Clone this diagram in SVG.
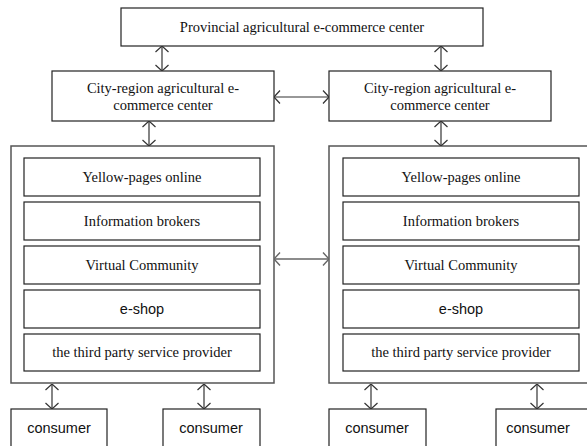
<svg xmlns="http://www.w3.org/2000/svg" width="587" height="446" viewBox="0 0 587 446">
<style>
.box{fill:#fff;stroke:#222;stroke-width:1.2}
.panel{fill:#fff;stroke:#555;stroke-width:1.5}
.serif{font-family:"Liberation Serif","Times New Roman",serif;font-size:14.5px;fill:#111;text-anchor:middle}
.sans{font-family:"Liberation Sans",Arial,sans-serif;font-size:14.5px;fill:#111;text-anchor:middle}
.conn{fill:none;stroke:#333;stroke-width:1.2;marker-start:url(#ah);marker-end:url(#ah)}
.conng{fill:none;stroke:#666;stroke-width:1.4;marker-start:url(#ahg);marker-end:url(#ahg)}
</style>
<defs>
<marker id="ah" viewBox="0 0 10 14" refX="10" refY="7" markerWidth="10" markerHeight="14" markerUnits="userSpaceOnUse" orient="auto-start-reverse">
<path d="M4,0.5 L10,7 L4,13.5" fill="none" stroke="#333" stroke-width="1.2"/>
</marker>
<marker id="ahg" viewBox="0 0 10 14" refX="10" refY="7" markerWidth="10" markerHeight="14" markerUnits="userSpaceOnUse" orient="auto-start-reverse">
<path d="M4,0.5 L10,7 L4,13.5" fill="none" stroke="#666" stroke-width="1.4"/>
</marker>
</defs>
<rect width="587" height="446" fill="#fff"/>
<g id="provincial">
<rect class="box" x="121" y="8" width="362" height="38"/>
<text class="serif" x="302" y="32">Provincial agricultural e-commerce center</text>
</g>
<g id="city-left">
<rect class="box" x="52" y="71" width="222" height="50"/>
<text class="serif" x="163" y="93">City-region agricultural e-</text>
<text class="serif" x="163" y="110">commerce center</text>
</g>
<g id="city-right">
<rect class="box" x="329" y="71" width="222" height="50"/>
<text class="serif" x="440" y="93">City-region agricultural e-</text>
<text class="serif" x="440" y="110">commerce center</text>
</g>
<g id="panel-left">
<rect class="panel" x="11" y="146" width="263" height="237"/>
<rect class="box" x="24" y="158" width="236" height="38"/>
<text class="serif" x="142" y="182">Yellow-pages online</text>
<rect class="box" x="24" y="202" width="236" height="38"/>
<text class="serif" x="142" y="226">Information brokers</text>
<rect class="box" x="24" y="246" width="236" height="38"/>
<text class="serif" x="142" y="270">Virtual Community</text>
<rect class="box" x="24" y="290" width="236" height="38"/>
<text class="sans" x="142" y="314">e-shop</text>
<rect class="box" x="24" y="334" width="236" height="37"/>
<text class="serif" x="142" y="357">the third party service provider</text>
</g>
<g id="panel-right">
<rect class="panel" x="329" y="146" width="264" height="237"/>
<rect class="box" x="343" y="158" width="236" height="38"/>
<text class="serif" x="461" y="182">Yellow-pages online</text>
<rect class="box" x="343" y="202" width="236" height="38"/>
<text class="serif" x="461" y="226">Information brokers</text>
<rect class="box" x="343" y="246" width="236" height="38"/>
<text class="serif" x="461" y="270">Virtual Community</text>
<rect class="box" x="343" y="290" width="236" height="38"/>
<text class="sans" x="461" y="314">e-shop</text>
<rect class="box" x="343" y="334" width="236" height="37"/>
<text class="serif" x="461" y="357">the third party service provider</text>
</g>
<g id="consumer1">
<rect class="box" x="11" y="409" width="96" height="45"/>
<text class="sans" x="59" y="433">consumer</text>
</g>
<g id="consumer2">
<rect class="box" x="163" y="409" width="97" height="45"/>
<text class="sans" x="211" y="433">consumer</text>
</g>
<g id="consumer3">
<rect class="box" x="329" y="409" width="97" height="45"/>
<text class="sans" x="377" y="433">consumer</text>
</g>
<g id="consumer4">
<rect class="box" x="496" y="409" width="100" height="45"/>
<text class="sans" x="538" y="433">consumer</text>
</g>
<g id="connectors">
<line class="conn" x1="162" y1="46" x2="162" y2="71"/>
<line class="conn" x1="441" y1="46" x2="441" y2="71"/>
<line class="conn" x1="274" y1="97" x2="329" y2="97"/>
<line class="conn" x1="149" y1="121" x2="149" y2="146"/>
<line class="conn" x1="441" y1="121" x2="441" y2="146"/>
<line class="conng" x1="274" y1="259" x2="329" y2="259"/>
<line class="conn" x1="52" y1="384" x2="52" y2="409"/>
<line class="conn" x1="204" y1="384" x2="204" y2="409"/>
<line class="conn" x1="371" y1="384" x2="371" y2="409"/>
<line class="conn" x1="537" y1="384" x2="537" y2="409"/>
</g>
</svg>
